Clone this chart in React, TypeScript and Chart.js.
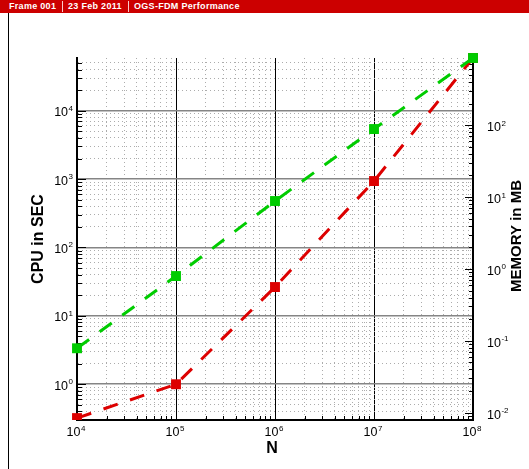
import React, { useEffect, useRef } from "react";
import { Chart, registerables } from "chart.js";

Chart.register(...registerables);

// ---- data ----
const nValues = [1e4, 1e5, 1e6, 1e7, 1e8];
const cpuSec = [0.32, 1.0, 26.4, 937, 59000];
const memoryMB = [0.0787, 0.796, 8.8, 88.3, 859];

// ---- axis ranges & tick labels ----
const X_MIN = 1e4;
const X_MAX = 1e8;
const CPU_MIN = 0.32;
const CPU_MAX = 59000;
const MEM_MIN = 0.00791;
const MEM_MAX = 859;
const xExponents = [4, 5, 6, 7, 8];
const cpuExponents = [0, 1, 2, 3, 4];
const memExponents = [-2, -1, 0, 1, 2];

// ---- texts ----
const headerParts = ["Frame 001", "23 Feb 2011", "OGS-FDM Performance"];
const xTitle = "N";
const cpuTitle = "CPU in SEC";
const memTitle = "MEMORY in MB";

const FONT = '"Liberation Sans", Arial, Helvetica, sans-serif';
const GREEN = "#00cc00";
const RED = "#dd0000";

function logTicks(min: number, max: number) {
  const out: { value: number; major: boolean }[] = [];
  const e0 = Math.floor(Math.log10(min));
  const e1 = Math.ceil(Math.log10(max));
  for (let e = e0; e <= e1; e++) {
    for (let m = 1; m <= 9; m++) {
      const v = m * Math.pow(10, e);
      if (v >= min * 0.9999 && v <= max * 1.0001) out.push({ value: v, major: m === 1 });
    }
  }
  return out;
}

function drawPow(ctx: CanvasRenderingContext2D, exp: number, x: number, y: number, align: string) {
  const base = "10";
  const sup = String(exp);
  ctx.font = `12.5px ${FONT}`;
  const wb = ctx.measureText(base).width;
  ctx.font = `8px ${FONT}`;
  const ws = ctx.measureText(sup).width;
  const gap = 0.5;
  const total = wb + gap + ws;
  const x0 = align === "left" ? x : align === "right" ? x - total : x - total / 2;
  ctx.textAlign = "left";
  ctx.textBaseline = "alphabetic";
  ctx.fillStyle = "#000";
  ctx.font = `12.5px ${FONT}`;
  ctx.fillText(base, x0, y);
  ctx.font = `8px ${FONT}`;
  ctx.fillText(sup, x0 + wb + gap, y - 5.5);
}

const decor = {
  id: "decor",
  beforeDatasetsDraw(chart: any) {
    const ctx: CanvasRenderingContext2D = chart.ctx;
    const { left, right, bottom } = chart.chartArea;
    const sx = chart.scales.x;
    const sy = chart.scales.y;
    const sy2 = chart.scales.y2;
    ctx.save();
    ctx.strokeStyle = "#000";
    ctx.lineWidth = 1;
    for (const t of sx.ticks) {
      const px = Math.round(sx.getPixelForValue(t.value)) + 0.5;
      const len = t.major ? 8 : 4;
      ctx.beginPath();
      ctx.moveTo(px, bottom);
      ctx.lineTo(px, bottom - len);
      ctx.stroke();
    }
    for (const t of sy.ticks) {
      const py = Math.round(sy.getPixelForValue(t.value)) + 0.5;
      const len = t.major ? 9 : 5;
      ctx.beginPath();
      ctx.moveTo(left, py);
      ctx.lineTo(left + len, py);
      ctx.stroke();
    }
    for (const t of sy2.ticks) {
      const py = Math.round(sy2.getPixelForValue(t.value)) + 0.5;
      const len = t.major ? 8 : 4;
      ctx.beginPath();
      ctx.moveTo(right, py);
      ctx.lineTo(right - len, py);
      ctx.stroke();
    }
    ctx.restore();
  },
  afterDraw(chart: any) {
    const ctx: CanvasRenderingContext2D = chart.ctx;
    const { left, right, top, bottom } = chart.chartArea;
    const sx = chart.scales.x;
    const sy = chart.scales.y;
    const sy2 = chart.scales.y2;
    ctx.save();
    for (const e of xExponents) {
      const px = sx.getPixelForValue(Math.pow(10, e));
      drawPow(ctx, e, px - 1, bottom + 16, "center");
    }
    for (const e of cpuExponents) {
      const py = sy.getPixelForValue(Math.pow(10, e));
      drawPow(ctx, e, left - 4, py + 5.5, "right");
    }
    for (const e of memExponents) {
      const py = sy2.getPixelForValue(Math.pow(10, e));
      drawPow(ctx, e, right + 14, py + 6, "left");
    }
    ctx.fillStyle = "#000";
    ctx.font = `bold 16px ${FONT}`;
    ctx.textAlign = "center";
    ctx.textBaseline = "middle";
    ctx.fillText(xTitle, (left + right) / 2 - 3, bottom + 29);
    const midY = (top + bottom) / 2;
    ctx.save();
    ctx.translate(39, midY);
    ctx.rotate(-Math.PI / 2);
    ctx.fillText(cpuTitle, 0, 0);
    ctx.restore();
    ctx.font = `bold 15px ${FONT}`;
    ctx.save();
    ctx.translate(517, midY - 3);
    ctx.rotate(-Math.PI / 2);
    ctx.fillText(memTitle, 0, 0);
    ctx.restore();
    ctx.restore();
  },
};

const isMinor = (c: any) => !!(c.tick && !c.tick.major);

export default function App() {
  const canvasRef = useRef<HTMLCanvasElement | null>(null);

  useEffect(() => {
    const canvas = canvasRef.current;
    if (!canvas) return;
    const chart = new Chart(canvas, {
      type: "line",
      data: {
        datasets: [
          {
            label: memTitle,
            data: nValues.map((n, i) => ({ x: n, y: memoryMB[i] })),
            yAxisID: "y2",
            borderColor: GREEN,
            backgroundColor: GREEN,
            borderWidth: 3,
            borderDash: [15, 13],
            pointStyle: "rect",
            pointRadius: 7,
            pointBorderWidth: 0,
            tension: 0,
            clip: { left: 10, top: 10, right: 10, bottom: 0 } as any,
          },
          {
            label: cpuTitle,
            data: nValues.map((n, i) => ({ x: n, y: cpuSec[i] })),
            yAxisID: "y",
            borderColor: RED,
            backgroundColor: RED,
            borderWidth: 3,
            borderDash: [15, 13],
            pointStyle: "rect",
            pointRadius: 7,
            pointBorderWidth: 0,
            tension: 0,
            clip: { left: 10, top: 10, right: 10, bottom: 0 } as any,
          },
        ],
      },
      options: {
        animation: false,
        responsive: false,
        maintainAspectRatio: false,
        devicePixelRatio: 1,
        layout: { padding: { left: 77, right: 56, top: 58, bottom: 49 } },
        plugins: { legend: { display: false }, tooltip: { enabled: false }, title: { display: false } },
        scales: {
          x: {
            type: "logarithmic",
            position: "bottom",
            min: X_MIN,
            max: X_MAX,
            afterBuildTicks: (s: any) => {
              s.ticks = logTicks(X_MIN, X_MAX);
            },
            afterFit: (s: any) => {
              s.height = 0;
            },
            ticks: { display: false },
            grid: {
              drawTicks: false,
              color: (c: any) => (isMinor(c) ? "#acacac" : "#000"),
              lineWidth: 1,
            },
            border: {
              display: true,
              color: "#000",
              width: 2,
              dash: (c: any) => (isMinor(c) ? [1, 3] : []),
            },
          },
          y: {
            type: "logarithmic",
            position: "left",
            min: CPU_MIN,
            max: CPU_MAX,
            afterBuildTicks: (s: any) => {
              s.ticks = logTicks(CPU_MIN, CPU_MAX);
            },
            afterFit: (s: any) => {
              s.width = 0;
            },
            ticks: { display: false },
            grid: {
              drawTicks: false,
              color: (c: any) => (isMinor(c) ? "#acacac" : "#858585"),
              lineWidth: (c: any) => (isMinor(c) ? 1 : 1.5),
            },
            border: {
              display: true,
              color: "#000",
              width: 2,
              dash: (c: any) => (isMinor(c) ? [1, 3] : []),
            },
          },
          y2: {
            type: "logarithmic",
            position: "right",
            min: MEM_MIN,
            max: MEM_MAX,
            afterBuildTicks: (s: any) => {
              s.ticks = logTicks(MEM_MIN, MEM_MAX);
            },
            afterFit: (s: any) => {
              s.width = 0;
            },
            ticks: { display: false },
            grid: { drawOnChartArea: false, drawTicks: false },
            border: { display: true, color: "#000", width: 1.5 },
          },
        },
      },
      plugins: [decor],
    } as any);
    return () => chart.destroy();
  }, []);

  const sepStyle: React.CSSProperties = {
    position: "absolute",
    top: 1,
    width: 1,
    height: 11,
    background: "rgba(255,225,225,0.9)",
  };
  const txtStyle: React.CSSProperties = {
    position: "absolute",
    top: 0,
    lineHeight: "13px",
    height: 13,
    fontFamily: FONT,
    fontWeight: "bold",
    fontSize: 9,
    letterSpacing: "0.3px",
    color: "#fff",
    whiteSpace: "nowrap",
  };

  return (
    <div style={{ position: "absolute", left: 0, top: 0, width: 529, height: 469, background: "#fff", overflow: "hidden" }}>
      <canvas ref={canvasRef} width={529} height={469} style={{ display: "block", width: 529, height: 469 }} />
      <div style={{ position: "absolute", left: 0, top: 0, width: 529, height: 13, background: "#cc0000" }}>
        <span style={{ ...txtStyle, left: 9 }}>{headerParts[0]}</span>
        <span style={{ ...sepStyle, left: 62 }} />
        <span style={{ ...txtStyle, left: 68 }}>{headerParts[1]}</span>
        <span style={{ ...sepStyle, left: 128 }} />
        <span style={{ ...txtStyle, left: 134 }}>{headerParts[2]}</span>
      </div>
      <div style={{ position: "absolute", left: 8, top: 13, width: 1, height: 456, background: "#000" }} />
    </div>
  );
}
